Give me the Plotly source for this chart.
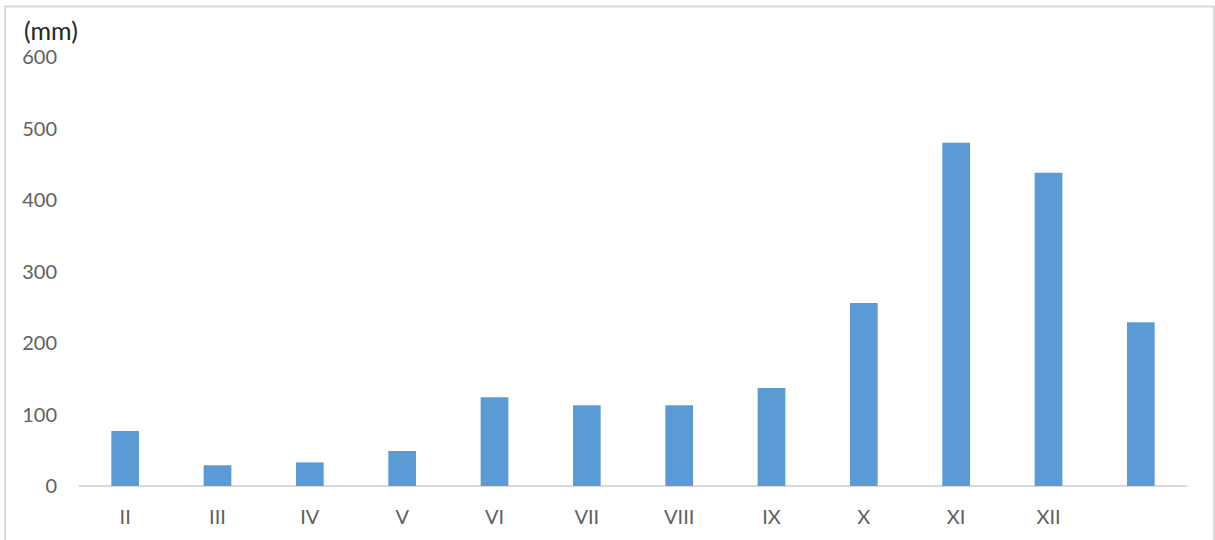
import plotly.graph_objects as go

# Monthly precipitation (mm)
months = ["II", "III", "IV", "V", "VI", "VII", "VIII", "IX", "X", "XI", "XII", " "]
rainfall = [77, 29, 33, 49, 124, 113, 113, 137, 256, 480, 438, 229]
y_ticks = [0, 100, 200, 300, 400, 500, 600]

BAR_COLOR = "#5B9BD5"
TEXT_GRAY = "#606060"
FONT = "Lato"

fig = go.Figure(
    go.Bar(
        x=months,
        y=rainfall,
        marker=dict(color=BAR_COLOR, line=dict(width=0)),
        width=0.3,
    )
)

fig.update_layout(
    width=1215,
    height=540,
    margin=dict(l=79, r=28, t=57, b=54),
    paper_bgcolor="white",
    plot_bgcolor="white",
    showlegend=False,
    font=dict(family=FONT, size=20, color=TEXT_GRAY),
    xaxis=dict(
        type="category",
        showgrid=False,
        showline=False,
        zeroline=False,
        ticks="",
        ticklabelstandoff=17,
        tickfont=dict(family=FONT, size=20, color=TEXT_GRAY),
    ),
    yaxis=dict(
        range=[0, 600],
        tickvals=y_ticks,
        showgrid=False,
        showline=False,
        zeroline=True,
        zerolinecolor="#d9d9d9",
        zerolinewidth=2,
        ticks="",
        ticklabelstandoff=21,
        tickfont=dict(family=FONT, size=20, color=TEXT_GRAY),
    ),
    shapes=[
        # chart frame
        dict(
            type="rect",
            xref="paper",
            yref="paper",
            x0=-0.0668,
            x1=1.0244,
            y0=-0.3,
            y1=1.1177,
            line=dict(color="#d9d9d9", width=2),
            fillcolor="rgba(0,0,0,0)",
            layer="below",
        )
    ],
    annotations=[
        dict(
            text="(mm)",
            xref="paper",
            yref="paper",
            x=-0.051,
            y=1.064,
            xanchor="left",
            yanchor="middle",
            showarrow=False,
            font=dict(family=FONT, size=25, color="#262626"),
        )
    ],
)

fig.write_html("out.html")
